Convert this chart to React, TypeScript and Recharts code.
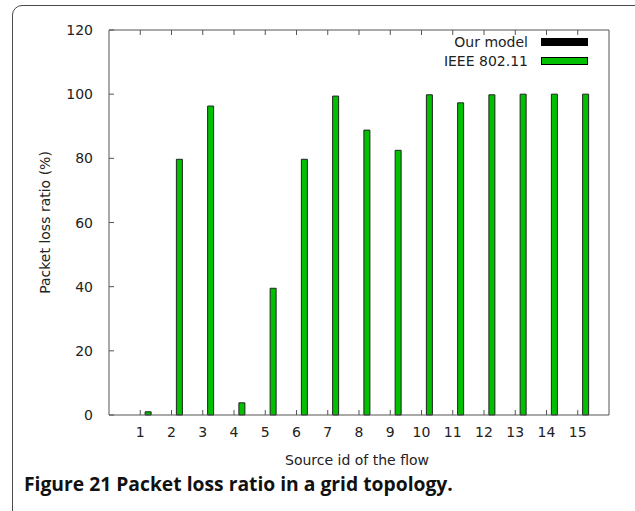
import React from 'react';
import { BarChart, Bar, XAxis, YAxis, Legend } from 'recharts';

// Source flow ids along the x axis
const flowIds = ['1', '2', '3', '4', '5', '6', '7', '8', '9', '10', '11', '12', '13', '14', '15'];
// Packet loss ratio (%) per flow
const ourModelLoss = [0, 0, 0, 0, 0, 0, 0, 0, 0, 0, 0, 0, 0, 0, 0];
const ieeeLoss = [1, 79.7, 96.3, 3.8, 39.5, 79.7, 99.4, 88.8, 82.5, 99.8, 97.3, 99.8, 100, 100, 100];
const lossTicks = [0, 20, 40, 60, 80, 100, 120];

const seriesNames = { ourModel: 'Our model', ieee: 'IEEE 802.11' };
const legendOrder = [seriesNames.ourModel, seriesNames.ieee];

const chartData = flowIds.map((id, i) => ({ id, ourModel: ourModelLoss[i], ieee: ieeeLoss[i] }));

const AXIS = '#555';
const TEXT = '#222';
const FONT = '"DejaVu Sans", sans-serif';
const TICK_LEN = 5;
const SLOT_PAD = 15.625; // half a category slot at both ends of the x range
const IEEE_SHIFT = 7.5; // IEEE bars sit just right of each tick

const BottomTick = (props: any) => {
  const { x, y, payload } = props;
  return (
    <g>
      <line x1={x} y1={y} x2={x} y2={y - TICK_LEN} stroke={AXIS} />
      <text x={x} y={y + 22} textAnchor="middle" fontSize={14} fill={TEXT} fontFamily={FONT}>
        {payload.value}
      </text>
    </g>
  );
};

const TopTick = (props: any) => {
  const { x, y } = props;
  return <line x1={x} y1={y} x2={x} y2={y + TICK_LEN} stroke={AXIS} />;
};

const LeftTick = (props: any) => {
  const { x, y, payload } = props;
  return (
    <g>
      <line x1={x} y1={y} x2={x + TICK_LEN} y2={y} stroke={AXIS} />
      <text x={x - 16} y={y + 5} textAnchor="end" fontSize={14} fill={TEXT} fontFamily={FONT}>
        {payload.value}
      </text>
    </g>
  );
};

const RightTick = (props: any) => {
  const { x, y } = props;
  return <line x1={x} y1={y} x2={x - TICK_LEN} y2={y} stroke={AXIS} />;
};

const YTitle = (props: any) => {
  const vb = props.viewBox || {};
  const cx = 45;
  const cy = vb.height ? vb.y + vb.height / 2 : 222;
  return (
    <text
      x={cx}
      y={cy}
      transform={`rotate(-90 ${cx} ${cy})`}
      textAnchor="middle"
      dominantBaseline="central"
      fontSize={14}
      fill={TEXT}
      fontFamily={FONT}
    >
      Packet loss ratio (%)
    </text>
  );
};

const XTitle = (props: any) => {
  const vb = props.viewBox || {};
  const cx = vb.width ? vb.x + vb.width / 2 - 2 : 357;
  return (
    <text x={cx} y={465} textAnchor="middle" fontSize={14} fill={TEXT} fontFamily={FONT}>
      Source id of the flow
    </text>
  );
};

const KeyBox = (props: any) => {
  const items = [...(props.payload || [])].sort(
    (a: any, b: any) => legendOrder.indexOf(a.value) - legendOrder.indexOf(b.value)
  );
  return (
    <div style={{ display: 'flex', flexDirection: 'column', alignItems: 'flex-end' }}>
      {items.map((entry: any) => (
        <div key={entry.value} style={{ display: 'flex', alignItems: 'center', height: 18.5 }}>
          <span style={{ fontFamily: FONT, fontSize: 14, color: TEXT, lineHeight: '18px' }}>{entry.value}</span>
          <span
            style={{
              display: 'inline-block',
              width: 45,
              height: 6,
              background: entry.color,
              border: '1px solid #000',
              marginLeft: 13,
            }}
          />
        </div>
      ))}
    </div>
  );
};

export default function App() {
  return (
    <div style={{ position: 'fixed', left: 0, top: 0, width: 635, height: 511, overflow: 'hidden', background: '#fff' }}>
      <div
        style={{
          position: 'absolute',
          left: 12,
          top: 5,
          width: 700,
          height: 600,
          border: '1px solid #4a4a4a',
          borderRadius: 10,
          boxSizing: 'border-box',
        }}
      />
      <div style={{ position: 'absolute', left: 0, top: 0 }}>
        <BarChart
          width={635}
          height={511}
          data={chartData}
          margin={{ top: 29, right: 25, bottom: 36, left: 39 }}
          style={{ fontFamily: FONT }}
        >
          <XAxis
            xAxisId="main"
            dataKey="id"
            orientation="bottom"
            height={60}
            padding={{ left: SLOT_PAD, right: SLOT_PAD }}
            axisLine={{ stroke: AXIS }}
            tickLine={false}
            tickSize={0}
            tickMargin={0}
            tick={<BottomTick />}
            interval={0}
            label={{ content: <XTitle /> }}
          />
          <XAxis
            xAxisId="top"
            dataKey="id"
            orientation="top"
            height={1}
            padding={{ left: SLOT_PAD, right: SLOT_PAD }}
            axisLine={{ stroke: AXIS }}
            tickLine={false}
            tickSize={0}
            tickMargin={0}
            tick={<TopTick />}
            interval={0}
          />
          <XAxis
            xAxisId="ieee"
            dataKey="id"
            orientation="top"
            height={0}
            hide
            padding={{ left: SLOT_PAD + IEEE_SHIFT, right: SLOT_PAD - IEEE_SHIFT }}
          />
          <YAxis
            yAxisId="left"
            orientation="left"
            width={70}
            domain={[0, 120]}
            ticks={lossTicks}
            interval={0}
            axisLine={{ stroke: AXIS }}
            tickLine={false}
            tickSize={0}
            tickMargin={0}
            tick={<LeftTick />}
            label={{ content: <YTitle /> }}
          />
          <YAxis
            yAxisId="right"
            orientation="right"
            width={1}
            domain={[0, 120]}
            ticks={lossTicks}
            interval={0}
            axisLine={{ stroke: AXIS }}
            tickLine={false}
            tickSize={0}
            tickMargin={0}
            tick={<RightTick />}
          />
          <Legend
            layout="horizontal"
            align="center"
            verticalAlign="middle"
            content={<KeyBox />}
            wrapperStyle={{ top: 33, left: 378, width: 210, bottom: 'auto', right: 'auto' }}
          />
          <Bar
            dataKey="ourModel"
            name={seriesNames.ourModel}
            xAxisId="main"
            yAxisId="left"
            fill="#000000"
            stroke="#000000"
            barSize={6}
            isAnimationActive={false}
          />
          <Bar
            dataKey="ieee"
            name={seriesNames.ieee}
            xAxisId="ieee"
            yAxisId="left"
            fill="#00c000"
            stroke="#222222"
            strokeWidth={1}
            barSize={6}
            isAnimationActive={false}
          />
        </BarChart>
      </div>
      <div
        style={{
          position: 'absolute',
          left: 24,
          top: 473,
          fontFamily: '"Open Sans", sans-serif',
          fontWeight: 700,
          fontSize: 19.3,
          lineHeight: '22px',
          color: '#111',
          whiteSpace: 'nowrap',
        }}
      >
        Figure 21 Packet loss ratio in a grid topology.
      </div>
    </div>
  );
}
